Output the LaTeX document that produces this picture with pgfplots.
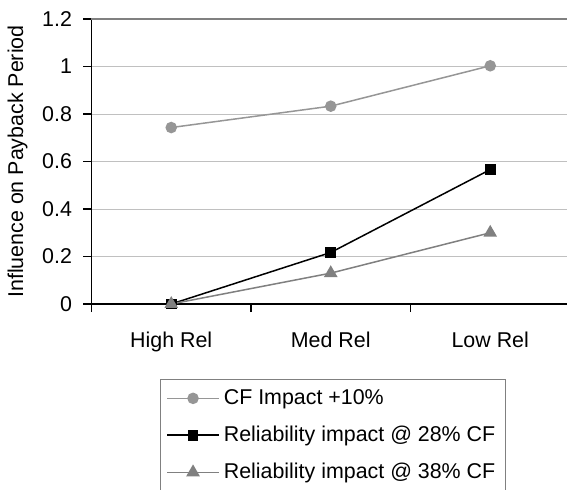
\documentclass[border=0pt]{standalone}
\usepackage{pgfplots}
\pgfplotsset{compat=1.18}
\usepackage{fontspec}
\setmainfont{Liberation Sans}
\definecolor{cfgray}{HTML}{969696}
\definecolor{trigray}{HTML}{808080}
\definecolor{gridgray}{HTML}{C0C0C0}
\begin{document}
\fontsize{10.7}{13}\selectfont
\begin{tikzpicture}
\path[use as bounding box] (-45.75pt,-92.5pt) rectangle (237.75pt,152pt);
\begin{axis}[
  at={(0,0)}, anchor=south west,
  scale only axis,
  width=239.25pt, height=142.5pt,
  xmin=-0.5, xmax=2.5,
  ymin=0, ymax=1.2,
  clip=false,
  axis lines*=left,
  axis line style={black, line width=0.6pt},
  tick align=outside,
  major tick length=4pt,
  tick style={black, line width=0.6pt},
  xtick={-0.5,0.5,1.5,2.5},
  xticklabels={},
  extra x ticks={0,1,2},
  extra x tick labels={High Rel, Med Rel, Low Rel},
  extra x tick style={major tick length=0pt, tick style={draw=none}, xticklabel style={yshift=-10pt}},
  ytick={0,0.2,0.4,0.6,0.8,1,1.2},
  yticklabel style={xshift=-2pt},
  ymajorgrids,
  major grid style={gridgray, line width=0.5pt},
  /pgf/number format/assume math mode=true,
  ticklabel style={font=\fontsize{10.7}{13}\selectfont},
  ylabel={Influence on Payback Period},
  ylabel style={font=\fontsize{10.7}{13}\selectfont},
  legend cell align=left,
  legend style={at={(0.866,-0.262)}, anchor=north east, draw=trigray, line width=0.6pt,
    font=\fontsize{10.7}{13}\selectfont, row sep=5.2pt, inner xsep=3pt, inner ysep=3pt},
  legend image code/.code={\draw[mark repeat=2,mark phase=2] plot coordinates {(0pt,0pt)(13pt,0pt)(26pt,0pt)};},
]
\draw[trigray, line width=0.8pt] (rel axis cs:0,1) -- (rel axis cs:1,1);
\addplot[cfgray, line width=0.75pt, mark=*, mark size=2.5pt, mark options={fill=cfgray, draw=cfgray}]
  coordinates {(0,0.743) (1,0.833) (2,1.003)};
\addlegendentry{CF Impact +10\%}
\addplot[black, line width=0.75pt, mark=square*, mark size=2.3pt, mark options={fill=black}]
  coordinates {(0,0) (1,0.217) (2,0.566)};
\addlegendentry{Reliability impact @ 28\% CF}
\addplot[trigray, line width=0.75pt, mark=triangle*, mark size=3.2pt, mark options={fill=trigray, draw=trigray}]
  coordinates {(0,0) (1,0.13) (2,0.30)};
\addlegendentry{Reliability impact @ 38\% CF}
\end{axis}
\end{tikzpicture}
\end{document}
